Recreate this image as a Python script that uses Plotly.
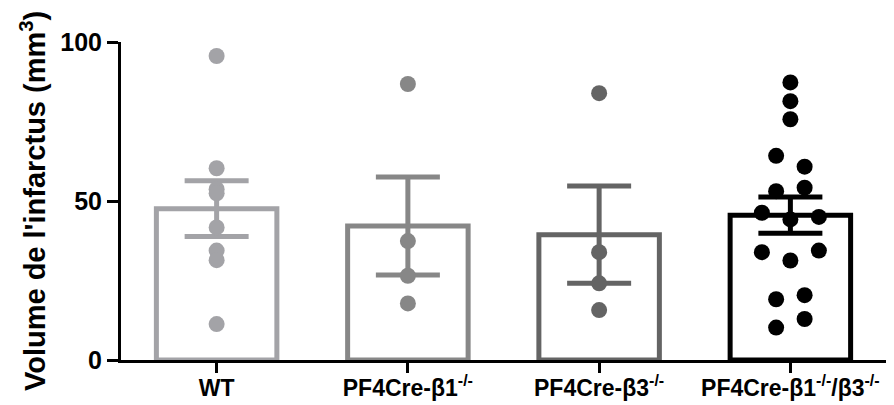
import numpy as np
import plotly.graph_objects as go

# ---- data ----
groups = ["WT", "PF4Cre-β1<sup>-/-</sup>", "PF4Cre-β3<sup>-/-</sup>",
          "PF4Cre-β1<sup>-/-</sup>/β3<sup>-/-</sup>"]
wt = [95.6, 60.3, 53.7, 52.4, 41.7, 34.4, 31.4, 11.3]
b1 = [86.8, 37.4, 26.5, 17.8]
b3 = [83.9, 33.9, 24.1, 15.7]
b13 = [87.3, 81.4, 75.7, 64.2, 60.8, 53.1, 54.2, 44.2, 46.3, 45.0,
       31.3, 33.9, 34.4, 19.1, 20.4, 10.2, 12.9]
y_ticks = [0, 50, 100]
y_title = "Volume de l'infarctus (mm<sup>3</sup>)"

# ---- style ----
colors = ["#a3a3a7", "#878787", "#646464", "#000000"]
swarm = [False, False, False, True]
series = [wt, b1, b3, b13]

W, H = 894, 405
ML, MR, MT, MB = 121, 8, 42, 45
plot_h = H - MT - MB
plot_w = W - ML - MR
px_per_unit = plot_h / (y_ticks[-1] - y_ticks[0])
marker_size = 16
slot = 0.149          # horizontal spacing of swarm slots (category units)
bar_w = 0.63
font_family = "Liberation Sans, Arial, sans-serif"


def swarm_offsets(vals, thresh):
    """Group points into rows of overlapping values and spread them."""
    vals = list(vals)
    order = sorted(range(len(vals)), key=lambda i: vals[i])
    rows, cur = [], []
    for i in order:
        if cur and vals[i] - vals[cur[0]] >= thresh:
            rows.append(cur)
            cur = []
        cur.append(i)
    if cur:
        rows.append(cur)
    offs = [0.0] * len(vals)
    for r in rows:
        n = len(r)
        pos = [k - (n - 1) / 2 for k in range(n)]
        pos.sort(key=lambda p: (abs(p), p))
        for idx, p in zip(sorted(r), pos):
            offs[idx] = p * slot
    return offs


fig = go.Figure()
thresh = marker_size / px_per_unit * 0.94

for gi, (vals, col) in enumerate(zip(series, colors)):
    arr = np.array(vals)
    mean = arr.mean()
    sem = arr.std(ddof=1) / np.sqrt(len(arr))
    fig.add_trace(go.Bar(
        x=[gi], y=[mean], width=bar_w,
        marker=dict(color="white", line=dict(color=col, width=5)),
        error_y=dict(type="data", array=[sem], color=col,
                     thickness=5, width=32),
        showlegend=False, hoverinfo="skip",
    ))
    offs = swarm_offsets(vals, thresh) if swarm[gi] else [0.0] * len(vals)
    fig.add_trace(go.Scatter(
        x=[gi + o for o in offs], y=vals, mode="markers",
        marker=dict(color=col, size=marker_size, line=dict(width=0)),
        showlegend=False, hoverinfo="skip", cliponaxis=False,
    ))

fig.update_layout(
    template="none",
    width=W, height=H,
    margin=dict(l=ML, r=MR, t=MT, b=MB, autoexpand=False),
    paper_bgcolor="white", plot_bgcolor="white",
    barmode="overlay",
    font=dict(family=font_family, color="black", weight="bold"),
    xaxis=dict(
        automargin=False,
        range=[-0.5, len(groups) - 0.5],
        tickmode="array", tickvals=list(range(len(groups))), ticktext=groups,
        showline=True, linecolor="black", linewidth=3,
        ticks="outside", ticklen=10, tickwidth=3, tickcolor="black",
        showgrid=False, zeroline=False, ticklabelstandoff=-5,
        tickfont=dict(size=23, family=font_family, weight="bold"),
    ),
    yaxis=dict(
        automargin=False,
        range=[y_ticks[0], y_ticks[-1]],
        tickmode="array", tickvals=y_ticks,
        showline=True, linecolor="black", linewidth=3,
        ticks="outside", ticklen=11, tickwidth=3, tickcolor="black",
        showgrid=False, zeroline=False,
        tickfont=dict(size=25, family=font_family, weight="bold"),
    ),
)

fig.add_annotation(
    text=y_title, xref="paper", yref="paper",
    x=(33 - ML) / plot_w, y=0.5,
    xanchor="center", yanchor="middle", textangle=-90, showarrow=False,
    font=dict(size=29, family=font_family, weight="bold", color="black"),
)

# remove the default 8px page margin so the figure fills the window exactly
fig.write_html("out.html",
               config={"displayModeBar": False},
               post_script="document.body.style.margin='0';"
                           "document.body.style.overflow='hidden';")
